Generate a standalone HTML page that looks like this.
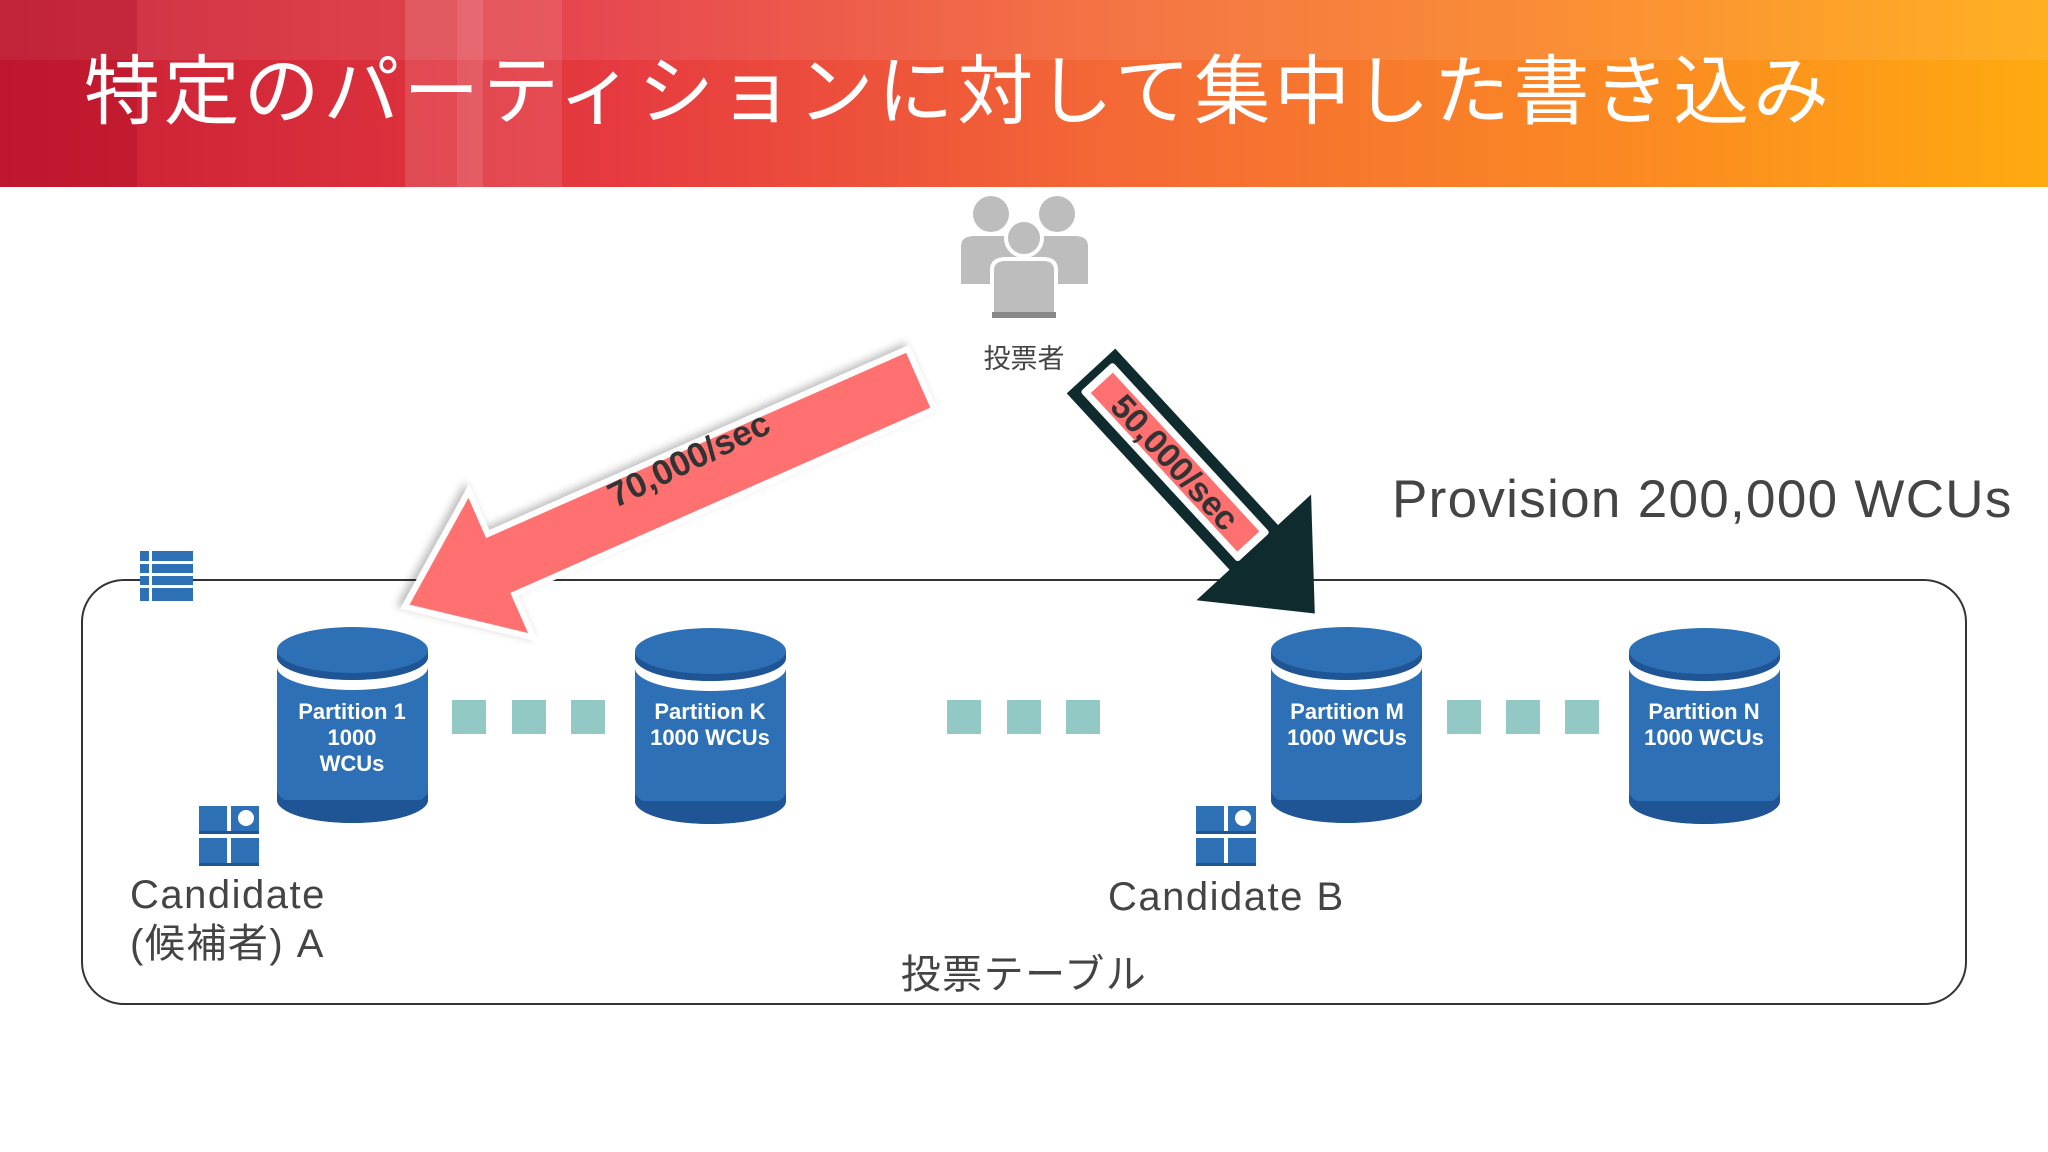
<!DOCTYPE html>
<html><head><meta charset="utf-8"><style>
html,body{margin:0;padding:0;width:2048px;height:1152px;overflow:hidden;background:#fff;font-family:"Liberation Sans","Noto Sans CJK JP",sans-serif}
</style></head><body>
<svg width="2048" height="1152" viewBox="0 0 2048 1152" xmlns="http://www.w3.org/2000/svg">
<defs>
<linearGradient id="hg" x1="0" x2="1" y1="0" y2="0">
<stop offset="0" stop-color="#c81e34"/>
<stop offset="0.3" stop-color="#e63a40"/>
<stop offset="0.55" stop-color="#f46a35"/>
<stop offset="0.8" stop-color="#fb8a22"/>
<stop offset="1" stop-color="#ffaa10"/>
</linearGradient>
<filter id="sh" x="-20%" y="-20%" width="140%" height="140%"><feDropShadow dx="3" dy="4" stdDeviation="4" flood-color="#000" flood-opacity="0.25"/></filter>
<g id="cyl">
<rect x="0" y="23" width="151" height="150" fill="#2e70b6"/>
<ellipse cx="75.5" cy="173" rx="75.5" ry="23" fill="#1f5595"/>
<rect x="0" y="150" width="151" height="23" fill="#2e70b6"/>
<path d="M0 163 A75.5 23 0 0 0 151 163 L151 173 A75.5 23 0 0 1 0 173Z" fill="#1f5595"/>
<path d="M0 30 A75.5 23 0 0 0 151 30 L151 40 A75.5 23 0 0 1 0 40Z" fill="#fff"/>
<ellipse cx="75.5" cy="23" rx="75.5" ry="23" fill="#2e70b6"/>
<path d="M0 23 A75.5 23 0 0 0 151 23 L151 30 A75.5 23 0 0 1 0 30Z" fill="#1f5595"/>
</g>
<g id="cand">
<rect x="0" y="0" width="28" height="28" fill="#2e70b6"/><rect x="32" y="0" width="28" height="28" fill="#2e70b6"/>
<rect x="0" y="32" width="28" height="28" fill="#2e70b6"/><rect x="32" y="32" width="28" height="28" fill="#2e70b6"/>
<circle cx="47" cy="12" r="8" fill="#fff"/>
<rect x="0" y="25" width="60" height="3" fill="#1f5595"/><rect x="0" y="57" width="60" height="3" fill="#1f5595"/>
</g>
</defs>
<rect x="0" y="0" width="2048" height="187" fill="url(#hg)"/>
<rect x="0" y="0" width="2048" height="60" fill="#fff" opacity="0.08"/>
<rect x="0" y="0" width="137" height="187" fill="#a0001a" opacity="0.25"/>
<rect x="405" y="0" width="52" height="187" fill="#fff" opacity="0.12"/>
<rect x="457" y="0" width="26" height="187" fill="#fff" opacity="0.2"/>
<rect x="483" y="0" width="79" height="187" fill="#fff" opacity="0.1"/>
<text x="84" y="118" font-size="76" letter-spacing="3.8" fill="#fff" font-family="Liberation Sans,Noto Sans CJK JP,sans-serif">特定のパーティションに対して集中した書き込み</text>

<!-- people icon -->
<g fill="#bdbdbd">
<circle cx="991" cy="214" r="18"/><circle cx="1057" cy="214" r="18"/>
<path d="M961 246 Q961 236 975 236 L1010 236 Q1022 236 1022 246 L1022 284 L961 284Z"/>
<path d="M1027 246 Q1027 236 1040 236 L1074 236 Q1088 236 1088 246 L1088 284 L1027 284Z"/>
<circle cx="1024" cy="238" r="18" stroke="#fff" stroke-width="4"/>
<path d="M992 270 Q992 259 1006 259 L1043 259 Q1056 259 1056 270 L1056 318 L992 318Z" stroke="#fff" stroke-width="4"/>
</g>
<rect x="992" y="312" width="64" height="6" fill="#888"/>
<text x="1024" y="368" font-size="27" fill="#444" text-anchor="middle">投票者</text>

<!-- container -->
<rect x="82" y="580" width="1884" height="424" rx="42" fill="none" stroke="#333" stroke-width="2"/>
<g fill="#2e70b6"><rect x="140" y="551" width="53" height="50"/></g>
<g fill="#fff"><rect x="140" y="561" width="53" height="3"/><rect x="140" y="573" width="53" height="3"/><rect x="140" y="585" width="53" height="3"/><rect x="149" y="551" width="3" height="50"/></g>

<text x="1392" y="517" font-size="53" letter-spacing="1.3" fill="#444">Provision 200,000 WCUs</text>

<use href="#cyl" x="277" y="627"/>
<use href="#cyl" x="635" y="628"/>
<use href="#cyl" x="1271" y="627"/>
<use href="#cyl" x="1629" y="628"/>
<g fill="#fff" font-weight="bold" font-size="22" text-anchor="middle">
<text x="352" y="719">Partition 1</text><text x="352" y="745">1000</text><text x="352" y="771">WCUs</text>
<text x="710" y="719">Partition K</text><text x="710" y="745">1000 WCUs</text>
<text x="1347" y="719">Partition M</text><text x="1347" y="745">1000 WCUs</text>
<text x="1704" y="719">Partition N</text><text x="1704" y="745">1000 WCUs</text>
</g>
<g fill="#93c9c4">
<rect x="452" y="700" width="34" height="34"/><rect x="512" y="700" width="34" height="34"/><rect x="571" y="700" width="34" height="34"/>
<rect x="947" y="700" width="34" height="34"/><rect x="1007" y="700" width="34" height="34"/><rect x="1066" y="700" width="34" height="34"/>
<rect x="1447" y="700" width="34" height="34"/><rect x="1506" y="700" width="34" height="34"/><rect x="1565" y="700" width="34" height="34"/>
</g>
<use href="#cand" x="199" y="806"/>
<use href="#cand" x="1196" y="806"/>
<g fill="#444" font-size="40" letter-spacing="1.5">
<text x="130" y="908">Candidate</text>
<text x="130" y="957">(候補者) A</text>
<text x="1108" y="910">Candidate B</text>
<text x="1024" y="988" text-anchor="middle">投票テーブル</text>
</g>

<!-- left arrow -->
<g transform="translate(921,379) rotate(156.2)" filter="url(#sh)">
<path d="M0 -33 L459 -33 L459 -80 L564 0 L459 80 L459 33 L0 33Z" fill="#ff7070" stroke="#fff" stroke-width="6" stroke-linejoin="miter"/>
</g>
<text transform="translate(694,470) rotate(-26)" font-size="35" font-weight="bold" fill="#333" text-anchor="middle">70,000/sec</text>

<!-- right arrow -->
<g transform="translate(1091,371) rotate(47.3)">
<path d="M0 -33 L240 -33 L240 -78 L330 0 L240 78 L240 33 L0 33Z" fill="#0f2b2e"/>
<rect x="8" y="-22" width="232" height="44" fill="#fff" rx="3"/>
<rect x="16" y="-15" width="216" height="30" fill="#ff7070"/>
<text x="124" y="12" font-size="34" font-weight="bold" fill="#333" text-anchor="middle">50,000/sec</text>
</g>
</svg>
</body></html>
